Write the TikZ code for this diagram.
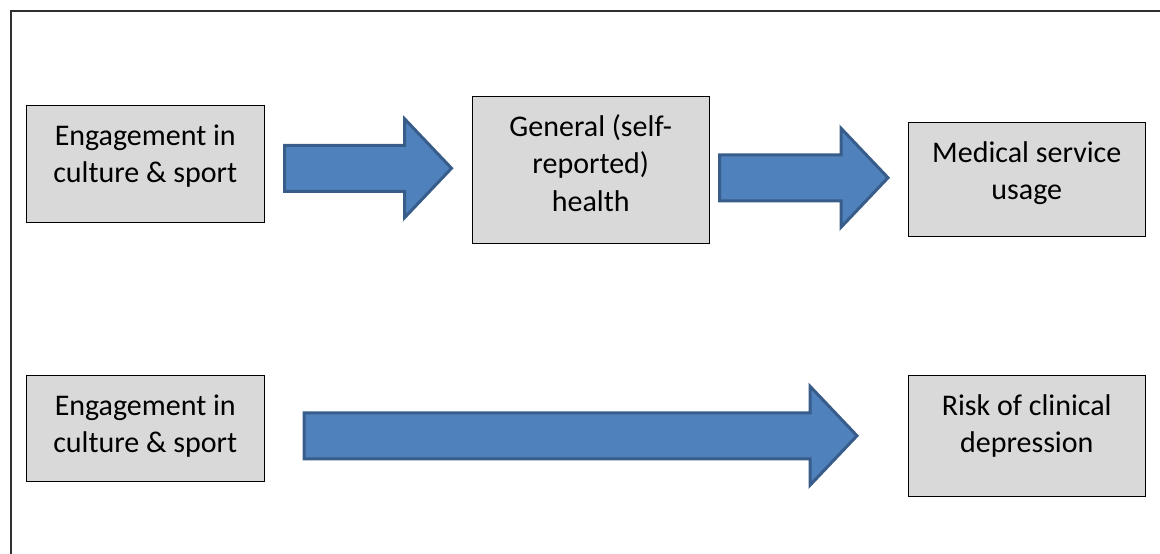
\documentclass[tikz,border=0pt]{standalone}
\usepackage{fontspec}
\setmainfont{Carlito}
\usetikzlibrary{calc}
\definecolor{boxgray}{HTML}{D9D9D9}
\definecolor{arrowfill}{HTML}{4F81BD}
\definecolor{arrowline}{HTML}{385D8A}
\definecolor{framecol}{HTML}{303030}
\newcommand\boxtext[3]{\parbox[c][#2][t]{#1}{\centering\fontsize{30}{37.5}\selectfont\rule{0pt}{40pt}#3}}
\newcommand\blockarrow[2]{% #1 start coordinate, #2 tip coordinate
  \draw[bigarrow] let \p1=(#1), \p2=(#2) in
    (\x1,\y2+23pt) -- (\x2-47pt,\y2+23pt) -- (\x2-47pt,\y2+49.5pt) -- (\x2,\y2)
    -- (\x2-47pt,\y2-49.5pt) -- (\x2-47pt,\y2-23pt) -- (\x1,\y2-23pt) -- cycle;}
\begin{document}
\begin{tikzpicture}[x=1pt,y=-1pt,
  box/.style={draw=black, fill=boxgray, line width=1.5pt, inner sep=0pt, anchor=north west},
  bigarrow/.style={fill=arrowfill, draw=arrowline, line width=3pt, line join=miter},
  frame/.style={draw=framecol, line width=1.5pt}]
\useasboundingbox (0,0) rectangle (1160,554);
\draw[frame] (11,554) -- (11,11) -- (1160,11);

\node[box] (b1) at (25.5,104.5) {\boxtext{238pt}{117pt}{Engagement in\\culture \& sport}};
\node[box] (b2) at (471.5,95.5) {\boxtext{237pt}{147pt}{General (self-\\reported)\\health}};
\node[box] (b3) at (907.5,121.5) {\boxtext{237pt}{114pt}{Medical service\\usage}};
\node[box] (b4) at (25.5,374.5) {\boxtext{238pt}{106pt}{Engagement in\\culture \& sport}};
\node[box] (b5) at (907.5,374.5) {\boxtext{237pt}{121pt}{Risk of clinical\\depression}};

\coordinate (a1s) at ($(b1.east)+(19.5,0)$);
\coordinate (a1t) at ($(b2.west)+(-20,-1.5)$);
\coordinate (a2s) at ($(b2.east)+(9.5,0)$);
\coordinate (a2t) at ($(b3.west)+(-19.5,-1.5)$);
\coordinate (a3s) at ($(b4.east)+(39,0)$);
\coordinate (a3t) at ($(b5.west)+(-50.5,0)$);
\blockarrow{a1s}{a1t}
\blockarrow{a2s}{a2t}
\blockarrow{a3s}{a3t}
\end{tikzpicture}
\end{document}
